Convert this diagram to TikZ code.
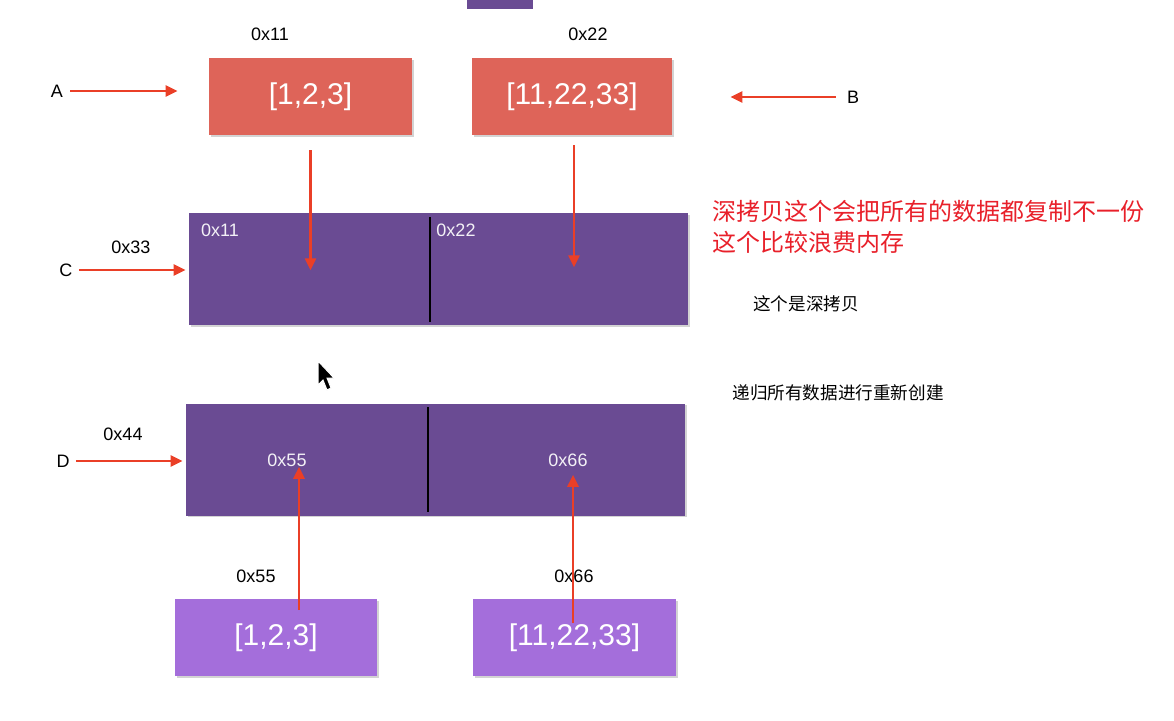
\documentclass[tikz,border=0pt]{standalone}
\usepackage{fontspec}
\setmainfont{Liberation Sans}
\newfontfamily\cjk{Noto Sans CJK SC}
\usetikzlibrary{arrows.meta,shadows}
\definecolor{boxred}{HTML}{DE6459}
\definecolor{boxpurple}{HTML}{6A4B93}
\definecolor{boxlilac}{HTML}{A46EDB}
\definecolor{linkred}{HTML}{EA3F27}
\definecolor{notered}{HTML}{E8202A}
\begin{document}
\begin{tikzpicture}
            [x=0.5pt, y=-0.5pt,
            every node/.style={inner sep=0pt},
            addr/.style={font=\fontsize{9}{11}\selectfont},
            varname/.style={font=\fontsize{9}{11}\selectfont},
            inaddr/.style={addr, text=white!92!boxpurple},
            listbox/.style={minimum height=38.5pt, text=white,
                font=\fontsize{15}{17}\selectfont,
                drop shadow={shadow xshift=0.8pt, shadow yshift=-0.8pt, opacity=0.35}},
            memrow/.style={fill=boxpurple, minimum width=249.5pt, minimum height=56pt,
                drop shadow={shadow xshift=0.8pt, shadow yshift=-0.8pt, opacity=0.35}},
            link/.style={draw=linkred, line width=1.3pt, -{Triangle[length=6pt, width=5.5pt]}},
            divider/.style={line width=1.4pt, black}]
            \useasboundingbox (0,0) rectangle (1174,720);
            % top part of the heap
            \fill[boxpurple] (467,-5) rectangle (533,9);
            \node[addr] (addrA) at (270,34) {0x11};
            \node[addr] (addrB) at (588,34) {0x22};
            \node[listbox, fill=boxred, minimum width=101.5pt] (boxA) at (310.5,96.5) {[1,2,3]};
            \node[listbox, fill=boxred, minimum width=100pt] (boxB) at (572,96.5) {[11,22,33]};
            \node[varname] (nameA) at (57,91) {A};
            \node[varname] (nameB) at (853,97) {B};
            \draw[link, shorten <=3.5pt, shorten >=15.5pt] (nameA.east) -- (nameA.east -| boxA.west);
            \draw[link, shorten <=5.5pt, shorten >=29pt] (nameB.west) -- (nameB.west -| boxB.east);
            % deep copy C
            \node[memrow] (rowC) at (438.5,269) {};
            \draw[divider] (430,217) -- (430,322);
            \node[inaddr] (inC11) at (220,230) {0x11};
            \node[inaddr] (inC22) at (456,230) {0x22};
            \node[addr] (addrC) at (131,247) {0x33};
            \node[varname] (nameC) at (66,270) {C};
            \draw[link, shorten <=3pt, shorten >=1.5pt] (nameC.east) -- (nameC.east -| rowC.west);
            \draw[link, shorten <=7.5pt] (boxA.south) -- ++(0,135);
            \draw[link, shorten <=5pt] (boxB.south -| 574,0) -- ++(0,132);
            % notes
            \node[anchor=west, align=left, text=notered, font=\cjk\fontsize{12}{15.5}\selectfont] (noteRed) at (712,227)
                {深拷贝这个会把所有的数据都复制不一份\\这个比较浪费内存};
            \node[font=\cjk\fontsize{8.8}{11}\selectfont] (noteDeep) at (806,304) {这个是深拷贝};
            \node[font=\cjk\fontsize{8.8}{11}\selectfont] (noteRec) at (838,393) {递归所有数据进行重新创建};
            % deep copy D
            \node[memrow] (rowD) at (435.5,459.5) {};
            \draw[divider] (428,407) -- (428,512);
            \node[inaddr] (inD55) at (287,460) {0x55};
            \node[inaddr] (inD66) at (568,460) {0x66};
            \node[addr] (addrD) at (123,434) {0x44};
            \node[varname] (nameD) at (63,461) {D};
            \draw[link, shorten <=3pt, shorten >=1.5pt] (nameD.east) -- (nameD.east -| rowD.west);
            \node[addr] (addrE) at (256,576) {0x55};
            \node[addr] (addrF) at (574,576) {0x66};
            \node[listbox, fill=boxlilac, minimum width=101pt] (boxE) at (276,637.5) {[1,2,3]};
            \node[listbox, fill=boxlilac, minimum width=101.5pt] (boxF) at (574.5,637.5) {[11,22,33]};
            \coordinate (tailE) at (299,610);
            \coordinate (tailF) at (573,623);
            \draw[link] (tailE) -- (tailE |- inD55.south);
            \draw[link, shorten >=4pt] (tailF) -- (tailF |- inD66.south);
            % mouse pointer
            \filldraw[fill=black, draw=white, line width=0.5pt]
                (318,361) -- (318,385) -- (323,380) -- (327,390) -- (331,388) -- (327,378) -- (334,378) -- cycle;
        \end{tikzpicture}
\end{document}
